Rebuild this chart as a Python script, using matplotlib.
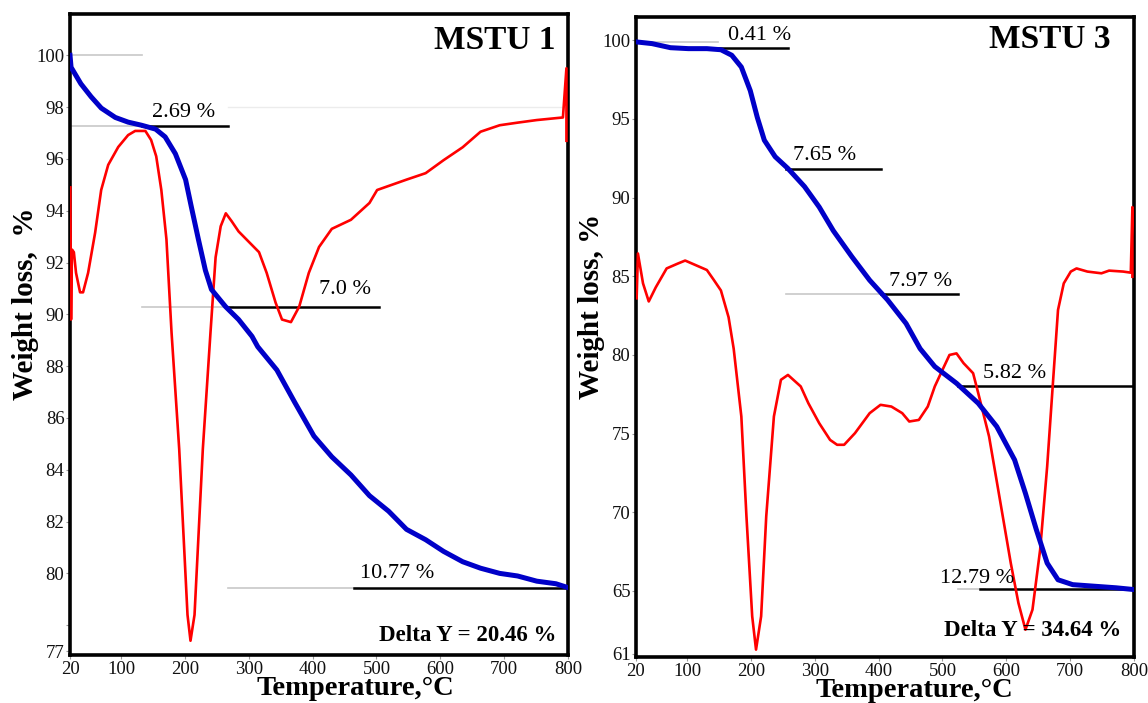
import matplotlib.pyplot as plt

plt.rcParams['font.family'] = ['Liberation Serif', 'DejaVu Serif']

# MSTU 1 : TG (blue) and DTA (red, drawn in the same axis units)
t1_tg = [20, 21.6, 37, 53, 69, 91, 111, 132, 154, 169, 185, 201, 210, 221, 232, 241.5,
         263.5, 284, 305, 314, 344, 372, 402, 430, 460, 489, 519, 547, 577, 605, 635, 663,
         693, 721, 751, 781, 800]
w1_tg = [100.0, 99.54, 98.9, 98.4, 97.96, 97.6, 97.42, 97.3, 97.15, 96.85, 96.2, 95.2, 94.15,
         92.9, 91.7, 90.96, 90.3, 89.8, 89.15, 88.75, 87.85, 86.6, 85.3, 84.5, 83.8, 83.0,
         82.4, 81.7, 81.3, 80.85, 80.45, 80.2, 80.0, 79.9, 79.7, 79.6, 79.45]
t1_dta = [20.5, 21.6, 23, 26, 29.4, 35.7, 40.4, 48.3, 59.3, 68.8, 79.8, 95.5, 111, 122, 138,
          147, 155, 163, 171, 179, 191, 204, 208.7, 215, 228, 240, 248, 256, 264, 273, 284,
          300, 316, 328, 342, 352, 366, 379, 394, 410, 430, 460, 489, 501, 547, 577, 605,
          635, 663, 693, 721, 751, 792, 797.5, 797.5]
w1_dta = [94.9, 89.8, 92.5, 92.4, 91.6, 90.85, 90.85, 91.6, 93.15, 94.8, 95.77, 96.46, 96.92,
          97.08, 97.08, 96.73, 96.1, 94.8, 92.9, 89.3, 84.8, 78.4, 77.4, 78.4, 84.8, 89.3,
          92.2, 93.4, 93.9, 93.6, 93.2, 92.8, 92.4, 91.6, 90.45, 89.8, 89.7, 90.3, 91.6,
          92.6, 93.3, 93.65, 94.3, 94.8, 95.2, 95.45, 95.95, 96.45, 97.05, 97.3, 97.4, 97.5,
          97.6, 99.5, 96.7]

# MSTU 3
t3_tg = [20, 45, 74, 102, 131, 153, 170, 185, 199, 210, 221, 238, 258, 284, 307, 329, 358,
         386, 414, 443, 465, 488, 522, 556, 585, 613, 630, 647, 664, 681, 704, 738, 772, 797]
w3_tg = [99.9, 99.79, 99.53, 99.47, 99.47, 99.4, 99.05, 98.3, 96.8, 95.1, 93.65, 92.6, 91.85,
         90.7, 89.4, 87.9, 86.25, 84.75, 83.5, 82.0, 80.4, 79.26, 78.2, 76.93, 75.45, 73.33,
         71.2, 68.9, 66.77, 65.71, 65.4, 65.3, 65.2, 65.1]
t3_dta = [21, 23, 31, 40, 51, 68, 85, 97, 114, 131, 142, 153, 165, 173, 185, 193, 202, 208,
          216, 224, 236, 247, 258, 278, 290, 307, 324, 335, 346, 363, 386, 403, 420, 437,
          448, 463, 477, 488, 500, 511, 522, 533, 548, 556, 573, 590, 607, 619, 630, 641,
          653, 664, 673, 681, 690, 701, 710, 727, 749, 761, 783, 795, 797.5, 797.5]
w3_dta = [83.6, 86.45, 84.55, 83.4, 84.3, 85.5, 85.8, 86.0, 85.7, 85.4, 84.76, 84.1, 82.4,
          80.4, 76.09, 69.74, 63.39, 61.27, 63.39, 69.74, 76.09, 78.42, 78.73, 78.0, 76.93,
          75.66, 74.6, 74.29, 74.29, 75.03, 76.3, 76.83, 76.72, 76.3, 75.77, 75.87, 76.72,
          78.0, 79.05, 80.0, 80.1, 79.48, 78.84, 77.58, 74.82, 70.8, 66.77, 64.23, 62.54,
          63.81, 67.62, 72.91, 78.2, 82.86, 84.55, 85.3, 85.5, 85.3, 85.19, 85.36, 85.3,
          85.23, 89.4, 84.97]

# step annotations: (level, gray start, black start, black end, label, label x, label y)
steps1 = [(97.27, 23, 133, 268, '2.69 %', 198, 97.8),
          (90.27, 132, 268, 504, '7.0 %', 450, 90.96),
          (79.45, 268, 465, 800, '10.77 %', 532, 80.0)]
steps3 = [(99.5, 116, 116, 258, '0.41 %', 214, 100.3),
          (91.85, 255, 255, 403, '7.65 %', 316, 92.7),
          (83.85, 255, 403, 525, '7.97 %', 466, 84.66),
          (78.0, 525, 525, 797, '5.82 %', 613, 78.84),
          (65.1, 525, 559, 797, '12.79 %', 555, 65.8)]

fig = plt.figure(figsize=(11.48, 7.03), dpi=100)
ax1 = fig.add_axes([0.061, 0.0683, 0.4338, 0.912])
ax3 = fig.add_axes([0.554, 0.0654, 0.4338, 0.9104])

panels = [
    (ax1, t1_tg, w1_tg, t1_dta, w1_dta, steps1, (76.85, 101.6),
     [77, 78, 80, 82, 84, 86, 88, 90, 92, 94, 96, 98, 100],
     ['77', '', '80', '82', '84', '86', '88', '90', '92', '94', '96', '98', '100'],
     'MSTU 1', (686, 100.58), 'Delta Y = 20.46 %', (643, 77.6), 'Weight loss,  %', 0.572),
    (ax3, t3_tg, w3_tg, t3_dta, w3_dta, steps3, (60.8, 101.48),
     [61, 65, 70, 75, 80, 85, 90, 95, 100],
     ['61', '65', '70', '75', '80', '85', '90', '95', '100'],
     'MSTU 3', (668, 100.04), 'Delta Y = 34.64 %', (641, 62.5), 'Weight loss, %', 0.56),
]

for (ax, ttg, wtg, tdta, wdta, steps, ylim, yt, ytl, name, name_xy,
     delta, delta_xy, ylab, xlab_x) in panels:
    ax.plot(tdta, wdta, color='#ff0000', lw=1.9, zorder=3)
    ax.plot(ttg, wtg, color='#0000c8', lw=3.6, zorder=4)

    for lev, g0, b0, b1, lab, lx, ly in steps:
        ax.plot([g0, b0 + 8], [lev, lev], color='#c8c8c8', lw=1.2, zorder=2)
        ax.plot([b0, b1], [lev, lev], color='black', lw=1.8, zorder=2)
        ax.text(lx, ly, lab, fontsize=16, ha='center', va='center', zorder=5)

    ax.text(name_xy[0], name_xy[1], name, fontsize=24, fontweight='bold',
            ha='center', va='center')
    ax.text(delta_xy[0], delta_xy[1], delta, fontsize=16.5, fontweight='bold',
            ha='center', va='center')

    ax.set_xlim(20, 800)
    ax.set_ylim(*ylim)
    ax.set_xticks([20, 100, 200, 300, 400, 500, 600, 700, 800])
    ax.set_yticks(yt)
    ax.set_yticklabels(ytl)
    ax.tick_params(axis='both', labelsize=13.5, length=3, width=0.8, color='#999999',
                   pad=1, labelcolor='#111111')
    for sp in ax.spines.values():
        sp.set_linewidth(2.6)
        sp.set_color('black')

    ax.set_xlabel('Temperature,°C', fontsize=20.5, fontweight='bold')
    ax.xaxis.set_label_coords(xlab_x, -0.033)
    ax.set_ylabel(ylab, fontsize=21, fontweight='bold')
    ax.yaxis.set_label_coords(-0.063, 0.548)

# extra reference lines
ax1.plot([20, 132], [100, 100], color='#c8c8c8', lw=1.2, zorder=2)
ax1.plot([268, 800], [98, 98], color='#ececec', lw=1.0, zorder=1)
ax3.plot([20, 148], [99.9, 99.9], color='#c8c8c8', lw=1.2, zorder=2)

fig.savefig('out.png', dpi=100)
